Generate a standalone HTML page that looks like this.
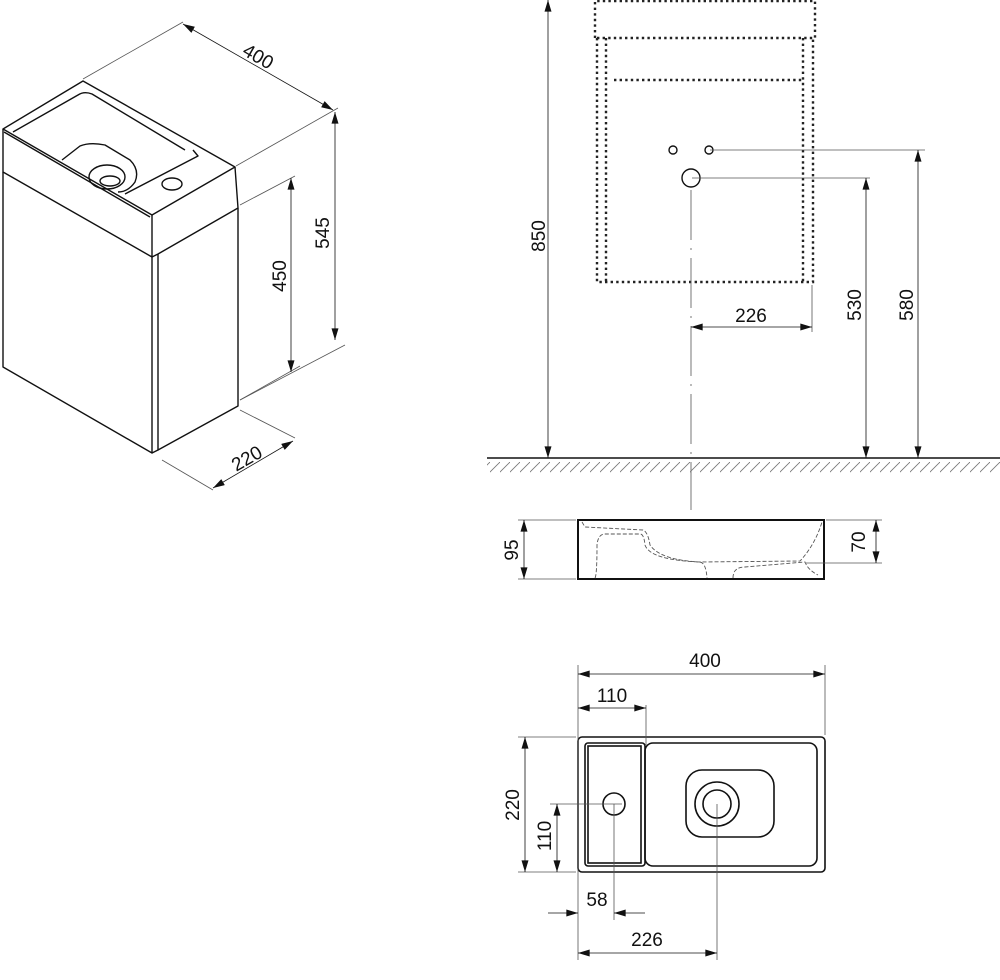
<!DOCTYPE html>
<html><head><style>html,body{margin:0;padding:0;background:#fff}svg{display:block}</style></head>
<body>
<svg width="1000" height="980" viewBox="0 0 1000 980" xmlns="http://www.w3.org/2000/svg" font-family="Liberation Sans, Arial, sans-serif">
<defs>
<marker id="a" viewBox="0 0 10 6" refX="10" refY="3" markerWidth="12" markerHeight="7" markerUnits="userSpaceOnUse" orient="auto-start-reverse"><path d="M0,0 L10,3 L0,6 z" fill="#111"/></marker>
<pattern id="h" width="10" height="22" patternUnits="userSpaceOnUse"><line x1="10" y1="0" x2="-12" y2="22" stroke="#777" stroke-width="0.8"/></pattern>
</defs>
<g fill="none" stroke="#111" stroke-width="1.4" stroke-linejoin="round">
<!-- isometric -->
<path d="M3,129 L83,81 L235,167 L152,215 Z"/>
<path d="M3,129 L3,172 L152,257 L152,215"/>
<path d="M152,257 L158,254 L238,208 L235,167"/>
<path d="M4,132 L150,217"/>
<path d="M13,132 L78,95 Q84,91 92,94 L185,150"/>
<path d="M62,160 L80,146 Q90,142 105,145 L130,160 Q140,170 135,182 Q128,192 118,192"/>
<ellipse cx="107" cy="177" rx="18" ry="12"/>
<ellipse cx="110" cy="181" rx="10" ry="5"/>
<path d="M193,150 L198,156 L125,194"/>
<ellipse cx="172" cy="184" rx="10" ry="6"/>
<path d="M3,172 L3,367 L152,453 L152,257"/>
<path d="M158,254 L158,450 L238,406 L238,208"/>
<path d="M152,453 L158,450"/>
</g>
<g stroke="#555" stroke-width="0.8" fill="none">
<line x1="83" y1="79" x2="183" y2="22"/>
<line x1="236" y1="166" x2="338" y2="108"/>
<line x1="183" y1="24" x2="333" y2="110" stroke="#111" marker-start="url(#a)" marker-end="url(#a)"/>
<line x1="240" y1="205" x2="295" y2="176"/>
<line x1="240" y1="400" x2="345" y2="345"/>
<line x1="335" y1="112" x2="335" y2="340" stroke="#111" marker-start="url(#a)" marker-end="url(#a)"/>
<line x1="240" y1="400" x2="300" y2="366"/>
<line x1="291" y1="178" x2="291" y2="372" stroke="#111" marker-start="url(#a)" marker-end="url(#a)"/>
<line x1="240" y1="410" x2="295" y2="438"/>
<line x1="162" y1="460" x2="213" y2="490"/>
<line x1="213" y1="488" x2="293" y2="441" stroke="#111" marker-start="url(#a)" marker-end="url(#a)"/>
</g>
<g font-size="19" fill="#111">
<text transform="translate(255,62) rotate(30)" text-anchor="middle">400</text>
<text transform="translate(329,233) rotate(-90)" text-anchor="middle">545</text>
<text transform="translate(286,276) rotate(-90)" text-anchor="middle">450</text>
<text transform="translate(250,464) rotate(-30)" text-anchor="middle">220</text>
</g>
<!-- elevation -->
<g fill="none" stroke="#222" stroke-width="2.4" stroke-dasharray="2.4,3.2">
<path d="M595,38 L595,1 L815,1 L815,38"/>
<line x1="597" y1="38" x2="813" y2="38"/>
<path d="M597,38 L597,282 L813,282 L813,38"/>
<line x1="606" y1="38" x2="606" y2="282"/>
<line x1="803" y1="38" x2="803" y2="282"/>
<line x1="614" y1="80" x2="803" y2="80"/>
</g>
<g fill="none" stroke="#111" stroke-width="1.4">
<circle cx="673" cy="150" r="4"/><circle cx="709" cy="150" r="4"/><circle cx="691" cy="178" r="9"/>
</g>
<g stroke="#555" stroke-width="0.8" fill="none">
<line x1="691" y1="190" x2="691" y2="510" stroke-dasharray="50,8,2,8"/>
<line x1="710" y1="150" x2="925" y2="150"/>
<line x1="692" y1="178" x2="870" y2="178"/>
<line x1="548" y1="0" x2="548" y2="458" stroke="#111" marker-end="url(#a)" marker-start="url(#a)"/>
<line x1="866" y1="178" x2="866" y2="458" stroke="#111" marker-start="url(#a)" marker-end="url(#a)"/>
<line x1="918" y1="150" x2="918" y2="458" stroke="#111" marker-start="url(#a)" marker-end="url(#a)"/>
<line x1="812" y1="285" x2="812" y2="332"/>
<line x1="691" y1="327" x2="812" y2="327" stroke="#111" marker-start="url(#a)" marker-end="url(#a)"/>
</g>
<rect x="487" y="459" width="513" height="22" fill="url(#h)"/>
<line x1="487" y1="458" x2="1000" y2="458" stroke="#111" stroke-width="1.6"/>
<g font-size="19" fill="#111">
<text transform="translate(545,236) rotate(-90)" text-anchor="middle">850</text>
<text transform="translate(861,305) rotate(-90)" text-anchor="middle">530</text>
<text transform="translate(913,305) rotate(-90)" text-anchor="middle">580</text>
<text x="751" y="322" text-anchor="middle">226</text>
</g>
<!-- section -->
<rect x="578" y="520" width="246" height="59" fill="none" stroke="#111" stroke-width="2"/>
<g fill="none" stroke="#555" stroke-width="0.9" stroke-dasharray="4,2">
<path d="M582,522 L585,527 L643,530 Q648,532 650,545 Q660,560 700,562 L800,561 Q815,545 822,522"/>
<path d="M595,578 Q597,575 597,545 Q598,534 605,534 L640,534 Q644,534 645,545 Q650,560 700,562"/>
<path d="M700,562 Q706,563 707,578"/>
<path d="M733,578 Q733,567 745,567 L805,562 Q808,570 818,575"/>
</g>
<g stroke="#555" stroke-width="0.8" fill="none">
<line x1="518" y1="520" x2="576" y2="520"/><line x1="518" y1="579" x2="576" y2="579"/>
<line x1="826" y1="520" x2="882" y2="520"/><line x1="806" y1="563" x2="882" y2="563"/>
<line x1="524" y1="520" x2="524" y2="579" stroke="#111" marker-start="url(#a)" marker-end="url(#a)"/>
<line x1="876" y1="520" x2="876" y2="563" stroke="#111" marker-start="url(#a)" marker-end="url(#a)"/>
</g>
<g font-size="19" fill="#111">
<text transform="translate(518,550) rotate(-90)" text-anchor="middle">95</text>
<text transform="translate(865,542) rotate(-90)" text-anchor="middle">70</text>
</g>
<!-- plan -->
<g fill="none" stroke="#111" stroke-width="1.6">
<rect x="578" y="737" width="247" height="135" rx="4"/>
<rect x="585" y="743" width="60" height="123" rx="3"/>
<rect x="588" y="746" width="53" height="117"/>
<rect x="645" y="743" width="172" height="123" rx="8"/>
<rect x="686" y="770" width="88" height="67" rx="16"/>
<circle cx="717" cy="804" r="22"/><circle cx="717" cy="804" r="14"/>
<circle cx="614" cy="804" r="11"/>
</g>
<g stroke="#555" stroke-width="0.8" fill="none">
<line x1="578" y1="665" x2="578" y2="960"/>
<line x1="825" y1="665" x2="825" y2="735"/>
<line x1="646" y1="705" x2="646" y2="745"/>
<line x1="717" y1="804" x2="717" y2="960"/>
<line x1="614" y1="804" x2="614" y2="920"/>
<line x1="550" y1="804" x2="622" y2="804"/>
<line x1="518" y1="737" x2="576" y2="737"/>
<line x1="518" y1="872" x2="576" y2="872"/>
<line x1="578" y1="674" x2="825" y2="674" stroke="#111" marker-start="url(#a)" marker-end="url(#a)"/>
<line x1="578" y1="708" x2="646" y2="708" stroke="#111" marker-start="url(#a)" marker-end="url(#a)"/>
<line x1="525" y1="737" x2="525" y2="872" stroke="#111" marker-start="url(#a)" marker-end="url(#a)"/>
<line x1="557" y1="804" x2="557" y2="872" stroke="#111" marker-start="url(#a)" marker-end="url(#a)"/>
<line x1="548" y1="913" x2="578" y2="913" stroke="#111" marker-end="url(#a)"/>
<line x1="645" y1="913" x2="614" y2="913" stroke="#111" marker-end="url(#a)"/>
<line x1="578" y1="953" x2="717" y2="953" stroke="#111" marker-start="url(#a)" marker-end="url(#a)"/>
</g>
<g font-size="19" fill="#111">
<text x="705" y="667" text-anchor="middle">400</text>
<text x="612" y="702" text-anchor="middle">110</text>
<text transform="translate(519,805) rotate(-90)" text-anchor="middle">220</text>
<text transform="translate(551,836) rotate(-90)" text-anchor="middle">110</text>
<text x="597" y="906" text-anchor="middle">58</text>
<text x="647" y="946" text-anchor="middle">226</text>
</g>
</svg>
</body></html>
